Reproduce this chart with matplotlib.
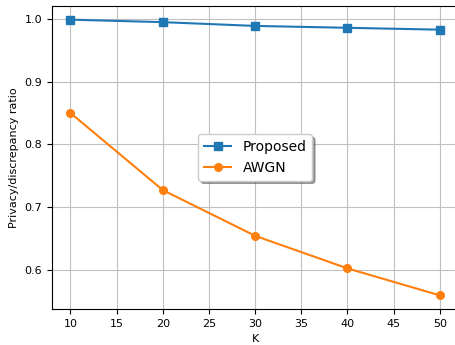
import matplotlib
matplotlib.use("Agg")
import matplotlib.pyplot as plt

K = [10, 20, 30, 40, 50]
proposed = [0.999, 0.995, 0.989, 0.986, 0.983]
awgn = [0.850, 0.727, 0.654, 0.602, 0.559]

fig, ax = plt.subplots(figsize=(4.56, 3.45), dpi=100)
ax.plot(K, proposed, marker="s", markersize=5.5, color="#1f77b4", label="Proposed")
ax.plot(K, awgn, marker="o", markersize=5.5, color="#ff7f0e", label="AWGN")

ax.set_xlabel("K", fontsize=8)
ax.set_ylabel("Privacy/discrepancy ratio", fontsize=8)
ax.tick_params(labelsize=8)
ax.grid(True, color="#c0c0c0")
ax.legend(loc="center", shadow=True, fontsize=10)

fig.subplots_adjust(left=0.114, right=1.005, top=0.983, bottom=0.104)
fig.savefig("out.png")
